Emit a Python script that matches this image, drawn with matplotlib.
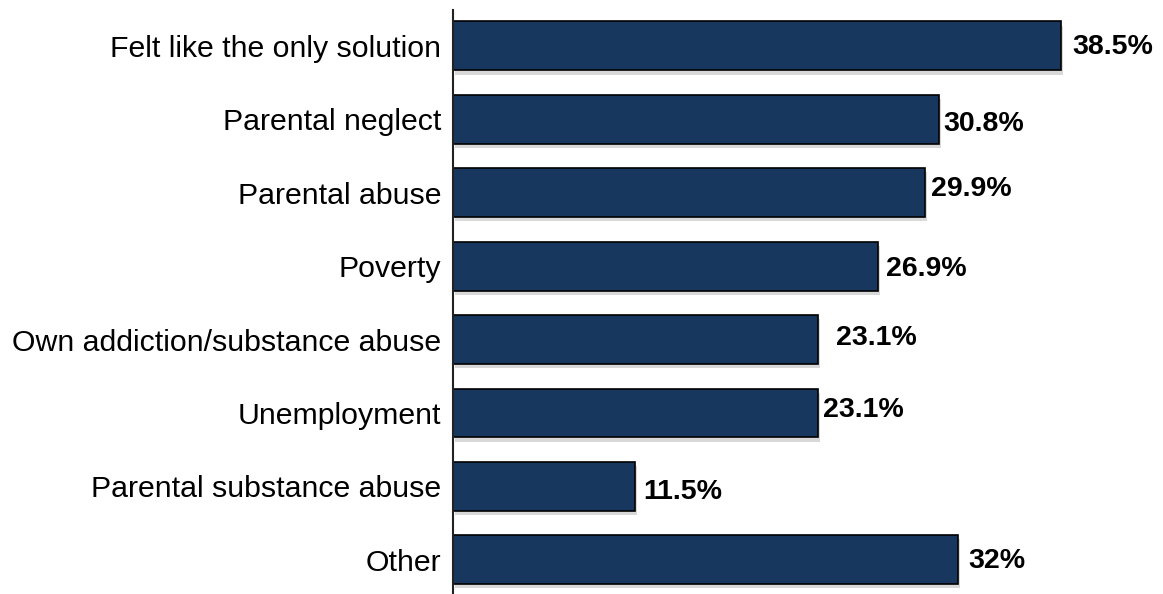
import matplotlib
matplotlib.use("Agg")
import matplotlib.pyplot as plt
import matplotlib.patheffects as pe

categories = ["Felt like the only solution", "Parental neglect", "Parental abuse", "Poverty",
              "Own addiction/substance abuse", "Unemployment", "Parental substance abuse", "Other"]
values = [38.5, 30.8, 29.9, 26.9, 23.1, 23.1, 11.5, 32]
value_labels = ["38.5%", "30.8%", "29.9%", "26.9%", "23.1%", "23.1%", "11.5%", "32%"]
# label offsets (points) as placed in the original
label_dx = [8, 3, 4, 6, 13, 4, 6, 7]
label_dy = [-1, -3, 3, -2, 1, 2, -4, -1]

plt.rcParams['font.family'] = ['Liberation Sans', 'DejaVu Sans']

fig = plt.figure(figsize=(11.63, 5.94), dpi=100)
ax = fig.add_axes([453/1163, 0, 1 - 453/1163, 1 - 10/594])

y = list(range(len(categories)))
bars = ax.barh(y, values, height=0.667, color="#17375E", edgecolor="black", linewidth=1.2,
               path_effects=[pe.SimplePatchShadow(offset=(1.5, -3), shadow_rgbFace="#aaaaaa", alpha=0.45), pe.Normal()])

for yi, v, lab, dx, dy in zip(y, values, value_labels, label_dx, label_dy):
    ax.annotate(lab, xy=(v, yi), xytext=(dx, dy), textcoords="offset points",
                ha="left", va="center", fontsize=20.5, fontweight="bold", color="black")

ax.set_xlim(0, (1163 - 453) / (608 / 38.5))
ax.set_ylim(7.466, -0.49)
ax.set_yticks(y)
ax.set_yticklabels(categories, fontsize=21.8)
ax.tick_params(axis="y", length=0, pad=8.5)
ax.set_xticks([])
for s in ["top", "right", "bottom"]:
    ax.spines[s].set_visible(False)
ax.spines["left"].set_linewidth(1.5)
ax.spines["left"].set_color("#222222")

fig.savefig("out.png", dpi=100)
